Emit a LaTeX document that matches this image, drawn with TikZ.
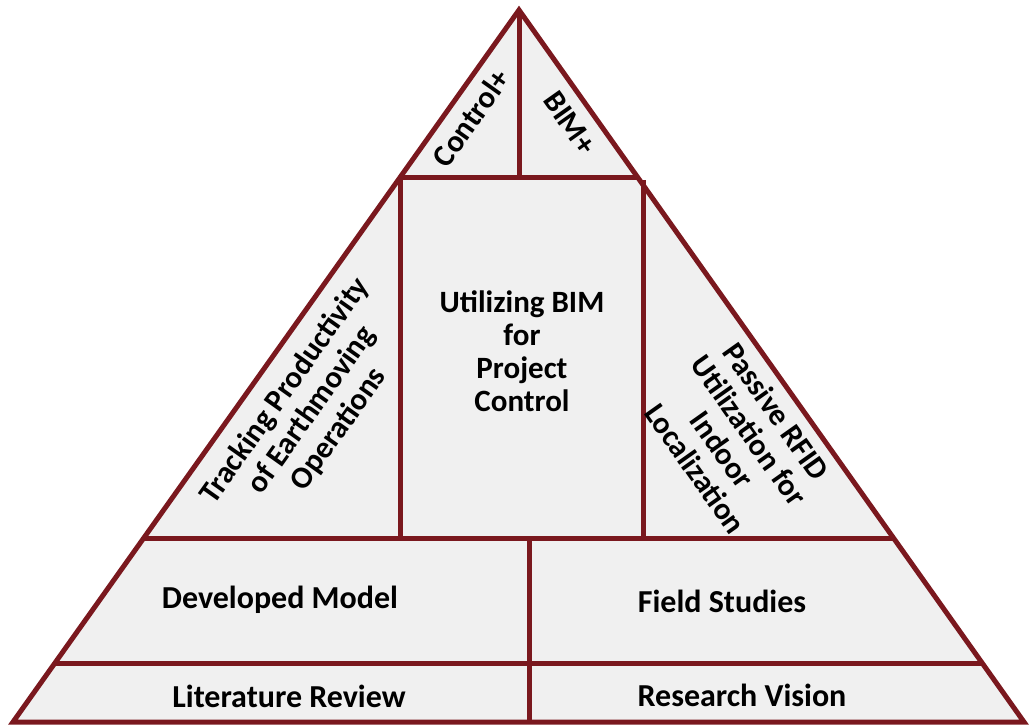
\documentclass[tikz,border=0pt]{standalone}
\usepackage{fontspec}
\setmainfont{Carlito}
\usepackage{tikz}
\usetikzlibrary{calc}
\definecolor{pyrred}{RGB}{122,24,30}
\definecolor{pyrfill}{RGB}{240,240,240}
\tikzset{
  edge/.style ={draw=pyrred, line width=5pt, line join=miter},
  tier/.style ={font=\bfseries\fontsize{32}{36}\selectfont, text=black, align=center, inner sep=0pt},
  slab/.style ={font=\bfseries\fontsize{31}{33}\selectfont, text=black, align=center, inner sep=0pt},
}

\begin{document}
\begin{tikzpicture}[x=1pt, y=-1pt]
\useasboundingbox (0,0) rectangle (1029,728);
% corners of the pyramid
\coordinate (apex) at (519,10);
\coordinate (bl) at (13,722);
\coordinate (br) at (1024,722);
% points where the tier lines meet the sides
\coordinate (l1) at ($(apex)!168/712!(bl)$);
\coordinate (r1) at ($(apex)!168/712!(br)$);
\coordinate (l2) at ($(apex)!529/712!(bl)$);
\coordinate (r2) at ($(apex)!529/712!(br)$);
\coordinate (l3) at ($(apex)!653/712!(bl)$);
\coordinate (r3) at ($(apex)!653/712!(br)$);
\fill[pyrfill] (apex) -- (bl) -- (br) -- cycle;
% inner lines
\draw[edge] (apex) -- (519,178);
\draw[edge] (l1) -- (r1);
\draw[edge] (400,178) -- (400,539);
\draw[edge] (643,180) -- (643,539);
\draw[edge] (l2) -- (r2);
\draw[edge] (l3) -- (r3);
\draw[edge] (529,539) -- (529,722);
\draw[edge] (apex) -- (bl) -- (br) -- cycle;
% labels
\node[slab, rotate=54.6] (ctrl) at (471,118) {Control+};
\node[slab, rotate=-54.7] (bimp) at (570,123) {BIM+};
\node[slab, rotate=54.6] (track) at (312,410) {Tracking Productivity\\of Earthmoving\\Operations};
\node[slab] (bimctrl) at (522,351) {Utilizing BIM\\for\\Project\\Control};
\node[slab, rotate=-54.7] (rfid) at (736,440) {Passive RFID\\Utilization for\\Indoor\\Localization};
\node[tier] (model) at (280,600) {Developed Model};
\node[tier] (field) at (722,601) {Field Studies};
\node[tier] (lit) at (289,696) {Literature Review};
\node[tier] (vision) at (742,695) {Research Vision};
\end{tikzpicture}
\end{document}
